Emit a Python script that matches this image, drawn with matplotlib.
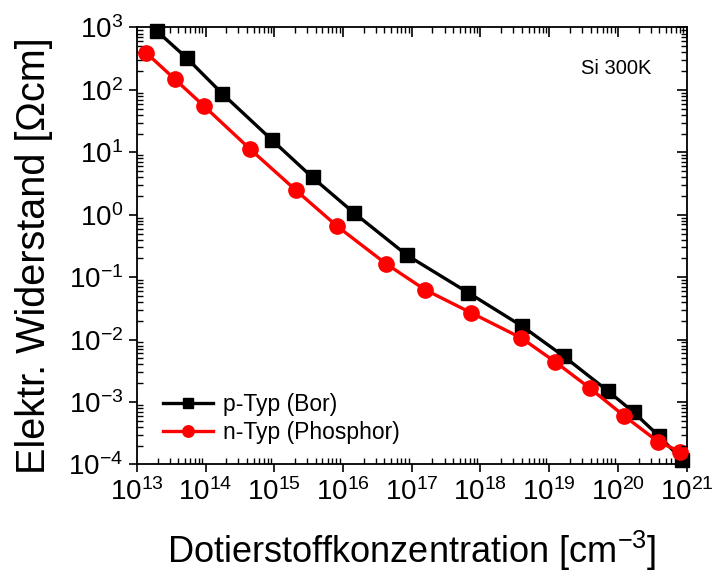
import numpy as np
import matplotlib
matplotlib.use('Agg')
from matplotlib import pyplot as plot
from matplotlib.ticker import LogLocator, NullFormatter

plot.rcParams['font.family'] = ['Liberation Sans', 'DejaVu Sans']
plot.rcParams['mathtext.fontset'] = 'custom'
plot.rcParams['mathtext.rm'] = 'Liberation Sans'
plot.rcParams['mathtext.it'] = 'Liberation Sans:italic'

# p-Typ (Bor)
p_conc = [1.94e13, 5.28e13, 1.74e14, 9.1e14, 3.6e15, 1.43e16, 8.55e16, 6.6e17,
          4.07e18, 1.63e19, 7.16e19, 1.71e20, 3.95e20, 8.65e20]
p_rho = [881, 326, 87.5, 16.0, 3.95, 1.08, 0.224, 0.0566,
         0.0163, 0.0054, 0.0015, 6.8e-4, 2.85e-4, 1.19e-4]

# n-Typ (Phosphor)
n_conc = [1.35e13, 3.6e13, 9.4e13, 4.5e14, 2.06e15, 8.2e15, 4.19e16, 1.55e17,
          7.4e17, 3.94e18, 1.23e19, 3.88e19, 1.22e20, 3.83e20, 8.1e20]
n_rho = [397, 147, 55.5, 11.1, 2.47, 0.655, 0.165, 0.0632,
         0.0267, 0.0106, 0.00438, 0.00168, 6.05e-4, 2.32e-4, 1.6e-4]

fig = plot.figure(figsize=(7.13, 5.72), dpi=100)
pos = [0.192, 0.188, 0.771, 0.764]
ax = fig.add_axes(pos)

ax.plot(p_conc, p_rho, color='black', lw=2.4, marker='s', ms=10,
        label='p-Typ (Bor)', clip_on=False, zorder=3)
ax.plot(n_conc, n_rho, color='#ff0000', lw=2.4, marker='o', ms=11,
        label='n-Typ (Phosphor)', clip_on=False, zorder=4)

ax.set_xscale('log')
ax.set_yscale('log')
ax.set_xlim(1e13, 1e21)
ax.set_ylim(1e-4, 1e3)

for axis in (ax.xaxis, ax.yaxis):
    axis.set_major_locator(LogLocator(base=10, numticks=20))
    axis.set_minor_locator(LogLocator(base=10, subs=np.arange(2, 10), numticks=20))
    axis.set_minor_formatter(NullFormatter())

ax.tick_params(which='major', direction='out', length=6, width=1.2, labelsize=20, pad=4)
ax.tick_params(which='minor', direction='in', length=4, width=1.0)
for s in ax.spines.values():
    s.set_linewidth(1.3)

# top and right ticks, all pointing inward
ax2 = fig.add_axes(pos, sharex=ax, sharey=ax)
ax2.patch.set_visible(False)
for s in ax2.spines.values():
    s.set_visible(False)
ax2.tick_params(which='both', direction='in', bottom=False, left=False, top=True, right=True,
                labelbottom=False, labelleft=False)
ax2.tick_params(which='major', length=7, width=1.2)
ax2.tick_params(which='minor', length=4, width=1.0)
ax2.xaxis.label.set_visible(False)
ax2.yaxis.label.set_visible(False)

ax.set_xlabel('Dotierstoffkonzentration [cm$^{-3}$]', fontsize=26, labelpad=16)
ax.set_ylabel('Elektr. Widerstand [\u03a9cm]', fontsize=28.5)
ax.yaxis.set_label_coords(-0.153, 0.477)

ax.text(0.935, 0.905, 'Si 300K', transform=ax.transAxes, fontsize=14.5, ha='right', va='center')

ax.legend(loc='lower left', bbox_to_anchor=(0.01, 0.0), frameon=False, fontsize=16.5,
          handlelength=2.2, markerscale=0.75, labelspacing=0.2, handletextpad=0.4)

fig.savefig('out.png', dpi=100)
